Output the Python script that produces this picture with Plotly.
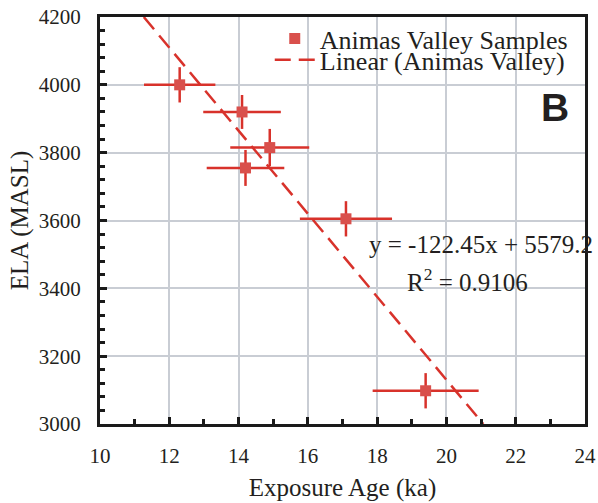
import plotly.graph_objects as go

# Data
age = [12.3, 14.1, 14.9, 14.2, 17.1, 19.4]
ela = [4000, 3920, 3815, 3755, 3605, 3098]
age_err = [1.03, 1.12, 1.14, 1.12, 1.33, 1.53]
ela_err = [52, 50, 55, 53, 52, 52]
slope = -122.45
intercept = 5579.2
fit_x = [(4200 - intercept) / slope, (3000 - intercept) / slope]
fit_y = [slope * v + intercept for v in fit_x]

red = "#d8322b"
font = "Liberation Serif"
txt = "#231f20"

fig = go.Figure()
fig.add_trace(go.Scatter(
    x=age, y=ela, mode="markers", name="Animas Valley Samples",
    marker=dict(symbol="square", size=11, color="#d9504c"),
    error_x=dict(type="data", array=age_err, color=red, thickness=2.5, width=0),
    error_y=dict(type="data", array=ela_err, color=red, thickness=2.5, width=0),
    legend="legend",
))
fig.add_trace(go.Scatter(
    x=fit_x, y=fit_y, mode="lines", name="Linear (Animas Valley)",
    line=dict(color=red, width=2.5, dash="16px,8px"),
    legend="legend2",
))

leg_common = dict(xanchor="left", yanchor="middle", bgcolor="rgba(0,0,0,0)",
                  font=dict(size=26, family=font, color=txt), itemwidth=40)
fig.update_layout(
    width=598, height=503,
    margin=dict(l=100, r=13, t=17, b=79),
    paper_bgcolor="white", plot_bgcolor="white",
    font=dict(family=font, size=21, color=txt),
    showlegend=True,
    legend=dict(x=0.35, y=0.947, **leg_common),
    legend2=dict(x=0.35, y=0.895, **leg_common),
    annotations=[
        dict(x=23.14, y=3932, text="<b>B</b>", showarrow=False,
             font=dict(family="Liberation Sans", size=39, color=txt)),
        dict(x=21.0, y=3530, text="y = -122.45x + 5579.2", showarrow=False,
             font=dict(family=font, size=25, color=txt)),
        dict(x=20.6, y=3424, text="R<sup>2</sup> = 0.9106", showarrow=False,
             font=dict(family=font, size=25, color=txt)),
    ],
)
fig.update_xaxes(
    range=[10, 24], dtick=2, tick0=10, automargin=False,
    showline=True, linecolor="#1a1a1a", linewidth=3, mirror=True,
    ticks="inside", ticklen=7, tickwidth=3, tickcolor="#1a1a1a",
    showgrid=True, gridcolor="#c9cdd4", gridwidth=1.5,
    minor=dict(dtick=1, ticks="inside", ticklen=5, tickwidth=2.5, tickcolor="#1a1a1a", showgrid=False),
    title=dict(text="Exposure Age (ka)", font=dict(size=25, family=font, color=txt), standoff=12),
    tickfont=dict(size=21, family=font, color=txt), ticklabelstandoff=11, zeroline=False,
)
fig.update_yaxes(
    range=[3000, 4200], dtick=200, tick0=3000, automargin=False,
    showline=True, linecolor="#1a1a1a", linewidth=3, mirror=True,
    ticks="inside", ticklen=7, tickwidth=3, tickcolor="#1a1a1a",
    showgrid=True, gridcolor="#c9cdd4", gridwidth=1.5,
    minor=dict(dtick=40, ticks="inside", ticklen=5, tickwidth=2.5, tickcolor="#1a1a1a", showgrid=False),
    title=dict(text="ELA (MASL)", font=dict(size=25, family=font, color=txt), standoff=4),
    tickfont=dict(size=21, family=font, color=txt), ticklabelstandoff=12, zeroline=False,
)
fig.write_html("out.html")
